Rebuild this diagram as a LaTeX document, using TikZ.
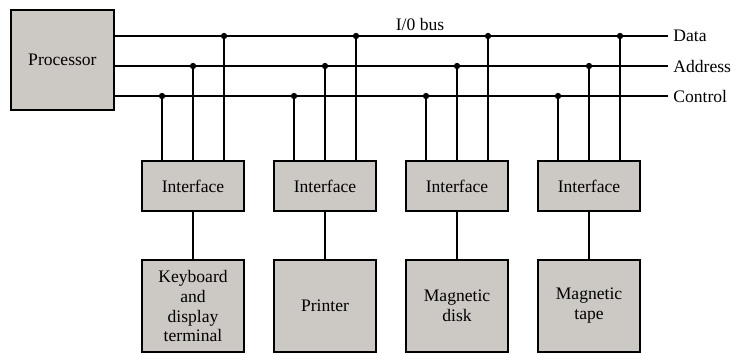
\documentclass[tikz,border=0pt]{standalone}
\usepackage{fontspec}
\setmainfont{Liberation Serif}
\definecolor{boxgray}{RGB}{204,200,196}
\begin{document}
\begin{tikzpicture}
[bx/.style={draw,line width=1.4pt,fill=boxgray,minimum width=2.55cm,minimum height=1.25cm,align=center,font=\fontsize{12.5}{14.2}\selectfont},
 dev/.style={bx,minimum height=2.3cm},
 ln/.style={line width=1pt},
 dot/.style={circle,fill,inner sep=0pt,minimum size=4.5pt},
 lab/.style={font=\fontsize{12.5}{14.2}\selectfont}]
\useasboundingbox (0,0) rectangle (18.4,8.85);
\node [bx,minimum width=2.58cm,minimum height=2.5cm] at (1.56cm,7.35cm) (proc) {Processor};
\node [bx] at (4.825cm,4.2cm) (if1) {Interface};
\node [bx] at (8.125cm,4.2cm) (if2) {Interface};
\node [bx] at (11.425cm,4.2cm) (if3) {Interface};
\node [bx] at (14.725cm,4.2cm) (if4) {Interface};
\node [dev] at (4.825cm,1.2cm) (dev1) {Keyboard\\and\\display\\terminal};
\node [dev] at (8.125cm,1.2cm) (dev2) {Printer};
\node [dev] at (11.425cm,1.2cm) (dev3) {Magnetic\\disk};
\node [dev] at (14.725cm,1.2cm) (dev4) {Magnetic\\tape};

\coordinate (dat) at (16.7cm,7.95cm);
\coordinate (adr) at (16.7cm,7.2cm);
\coordinate (ctl) at (16.7cm,6.45cm);
\draw [ln] (proc.east |- dat) -- (dat) node [lab,right] {Data};
\draw [ln] (proc.east |- adr) -- (adr) node [lab,right] {Address};
\draw [ln] (proc.east |- ctl) -- (ctl) node [lab,right] {Control};
\node [lab] at (10.5cm,8.25cm) (iobus) {I/0 bus};

\foreach \i in {1,...,4} {
  \coordinate (l\i) at ([xshift=-7.75mm]if\i.north);
  \coordinate (r\i) at ([xshift=7.75mm]if\i.north);
  \draw [ln] (l\i) -- (l\i |- ctl) node [dot] {};
  \draw [ln] (if\i.north) -- (if\i.north |- adr) node [dot] {};
  \draw [ln] (r\i) -- (r\i |- dat) node [dot] {};
  \draw [ln] (if\i) -- (dev\i);
}
\end{tikzpicture}
\end{document}
